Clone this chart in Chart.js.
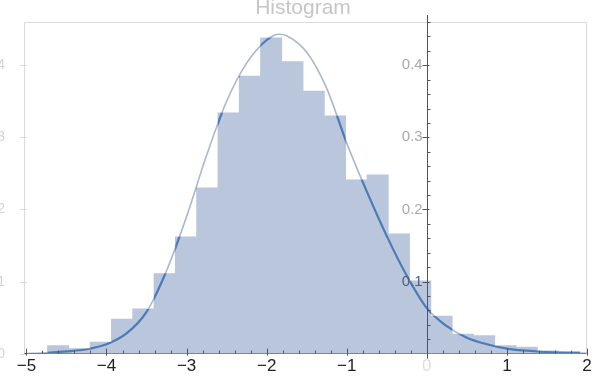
<!DOCTYPE html>
<html>
<head>
<meta charset="utf-8">
<script src="https://cdn.jsdelivr.net/npm/chart.js@4.4.1/dist/chart.umd.min.js"></script>
<style>
  html, body { margin: 0; padding: 0; background: #fff; }
  #wrap { width: 597px; height: 381px; }
</style>
</head>
<body>
<div id="wrap"><canvas id="histo"></canvas></div>
<script>
// histogram bins (centre of each bin, bin width ~0.266)
const binCenters = [-4.604, -4.338, -4.072, -3.806, -3.540, -3.274, -3.008, -2.742, -2.476, -2.210,
  -1.944, -1.678, -1.412, -1.146, -0.880, -0.614, -0.348, -0.082, 0.184, 0.450, 0.716, 0.982, 1.248, 1.514, 1.780];
const binHeights = [0.011, 0.007, 0.016, 0.048, 0.062, 0.111, 0.162, 0.230, 0.334, 0.385,
  0.438, 0.405, 0.364, 0.330, 0.241, 0.248, 0.166, 0.101, 0.052, 0.027, 0.025, 0.011, 0.009, 0.004, 0.003];

// density curve
const curveX = [-5, -4.75, -4.5, -4.25, -4, -3.75, -3.5, -3.25, -3, -2.75, -2.5, -2.25, -2, -1.85, -1.75,
  -1.5, -1.25, -1, -0.75, -0.5, -0.25, 0, 0.25, 0.5, 0.75, 1, 1.25, 1.5, 1.75, 2];
const curveY = [0.000, 0.001, 0.003, 0.006, 0.013, 0.028, 0.058, 0.115, 0.190, 0.275, 0.350, 0.403, 0.435, 0.443, 0.441,
  0.418, 0.368, 0.292, 0.225, 0.163, 0.108, 0.063, 0.038, 0.022, 0.013, 0.007, 0.004, 0.002, 0.001, 0.0005];

const xTicks = [-5, -4, -3, -2, -1, 0, 1, 2];
const yTicks = [0.1, 0.2, 0.3, 0.4];
const frameTicks = [0, 0.1, 0.2, 0.3, 0.4];
const chartTitle = "Histogram";

const barColor = "#b9c6dc";
const curveLight = "#a9b8ce";
const curveDark = "#4d7bb8";

// frame, axis at x=0, little ticks, title
const decor = {
  id: "decor",
  beforeDatasetsDraw(chart) {
    const { ctx, chartArea: a } = chart;
    const y = chart.scales.y;
    ctx.save();
    ctx.strokeStyle = "#dadada";
    ctx.lineWidth = 1;
    ctx.beginPath();
    ctx.moveTo(a.left + 0.5, a.bottom);
    ctx.lineTo(a.left + 0.5, a.top + 0.5);
    ctx.lineTo(a.right - 0.5, a.top + 0.5);
    ctx.lineTo(a.right - 0.5, a.bottom);
    ctx.stroke();
    // cropped labels of the frame (mostly off the left edge)
    ctx.fillStyle = "#d4d4d4";
    ctx.font = '14px "Liberation Sans", Arial, sans-serif';
    ctx.textAlign = "right";
    ctx.textBaseline = "middle";
    frameTicks.forEach(v => {
      const py = Math.round(y.getPixelForValue(v)) + 0.5;
      ctx.beginPath();
      ctx.moveTo(a.left - 4, py);
      ctx.lineTo(a.left + 3, py);
      ctx.stroke();
      ctx.fillText(v === 0 ? "0" : v.toFixed(1), 5, py);
    });
    ctx.restore();
  },
  afterDatasetsDraw(chart) {
    const { ctx, chartArea: a } = chart;
    const x = chart.scales.x, y = chart.scales.y;

    // curve gets darker where it runs over the bars
    const bars = chart.getDatasetMeta(0).data;
    const lineEl = chart.getDatasetMeta(1).dataset;
    ctx.save();
    ctx.beginPath();
    bars.forEach(b => {
      const p = b.getProps(["x", "y", "base", "width"], true);
      ctx.rect(p.x - p.width / 2, p.y, p.width, p.base - p.y);
    });
    ctx.clip();
    const path = new Path2D();
    lineEl.path(path);
    ctx.strokeStyle = curveDark;
    ctx.lineWidth = 2.2;
    ctx.stroke(path);
    ctx.restore();

    ctx.save();
    ctx.strokeStyle = "#555";
    ctx.lineWidth = 1;
    // y axis through x = 0
    const x0 = Math.round(x.getPixelForValue(0)) + 0.5;
    ctx.beginPath();
    ctx.moveTo(x0, a.top - 7);
    ctx.lineTo(x0, a.bottom + 5);
    ctx.stroke();
    for (let i = 1; i <= 23; i++) {
      const py = Math.round(y.getPixelForValue(i * 0.02)) + 0.5;
      ctx.beginPath();
      if (i % 5 === 0) { ctx.moveTo(x0 - 5, py); ctx.lineTo(x0 + 2, py); }
      else { ctx.moveTo(x0, py); ctx.lineTo(x0 + 3, py); }
      ctx.stroke();
    }
    // x axis ticks (pointing up)
    for (let i = 0; i <= 35; i++) {
      const v = -5 + i * 0.2;
      const px = Math.round(x.getPixelForValue(v)) + 0.5;
      ctx.beginPath();
      if (i % 5 === 0) { ctx.moveTo(px, a.bottom - 5); ctx.lineTo(px, a.bottom + 2); }
      else { ctx.moveTo(px, a.bottom - 3); ctx.lineTo(px, a.bottom); }
      ctx.stroke();
    }
    ctx.restore();
  },
  afterDraw(chart) {
    const ctx = chart.ctx;
    ctx.save();
    ctx.fillStyle = "#c6c6c6";
    ctx.font = '21px "Liberation Sans", Arial, sans-serif';
    ctx.textAlign = "center";
    ctx.textBaseline = "alphabetic";
    ctx.fillText(chartTitle, 303, 14);
    ctx.restore();
  }
};

new Chart(document.getElementById("histo"), {
  type: "bar",
  data: {
    datasets: [
      {
        type: "bar",
        data: binCenters.map((c, i) => ({ x: c, y: binHeights[i] })),
        backgroundColor: barColor,
        borderWidth: 0,
        barPercentage: 1,
        categoryPercentage: 1,
        order: 2
      },
      {
        type: "line",
        data: curveX.map((c, i) => ({ x: c, y: curveY[i] })),
        borderColor: curveLight,
        borderWidth: 1.6,
        pointRadius: 0,
        cubicInterpolationMode: "monotone",
        fill: false,
        order: 1
      }
    ]
  },
  options: {
    responsive: true,
    maintainAspectRatio: false,
    animation: false,
    layout: { padding: { top: 22, left: 24, right: 10, bottom: 1 } },
    plugins: { legend: { display: false }, tooltip: { enabled: false } },
    scales: {
      x: {
        type: "linear",
        offset: false,
        min: -5.03,
        max: 2,
        afterBuildTicks: scale => { scale.ticks = xTicks.map(v => ({ value: v })); },
        grid: { display: false, drawTicks: false, offset: false },
        border: { display: true, color: "#444" },
        ticks: {
          padding: 3,
          color: ctx => (ctx.tick && ctx.tick.value === 0 ? "#dedede" : "#222"),
          font: { size: 17, family: '"Liberation Sans", Arial, sans-serif' },
          callback: v => (v < 0 ? "\u2212" + Math.abs(v) : String(v))
        }
      },
      y: {
        min: 0,
        max: 0.46,
        position: { x: 0 },
        afterBuildTicks: scale => { scale.ticks = yTicks.map(v => ({ value: v })); },
        grid: { display: false, drawTicks: false },
        border: { display: false },
        ticks: {
          z: 1, // labels above the bars
          padding: 11,
          color: ctx => (ctx.tick && ctx.tick.value < 0.15 ? "#4a6285" : "#aaa"),
          font: { size: 15, family: '"Liberation Sans", Arial, sans-serif' },
          // trailing space keeps the label clear of the axis line
          callback: v => v.toFixed(1) + " "
        }
      }
    }
  },
  plugins: [decor]
});
</script>
</body>
</html>
